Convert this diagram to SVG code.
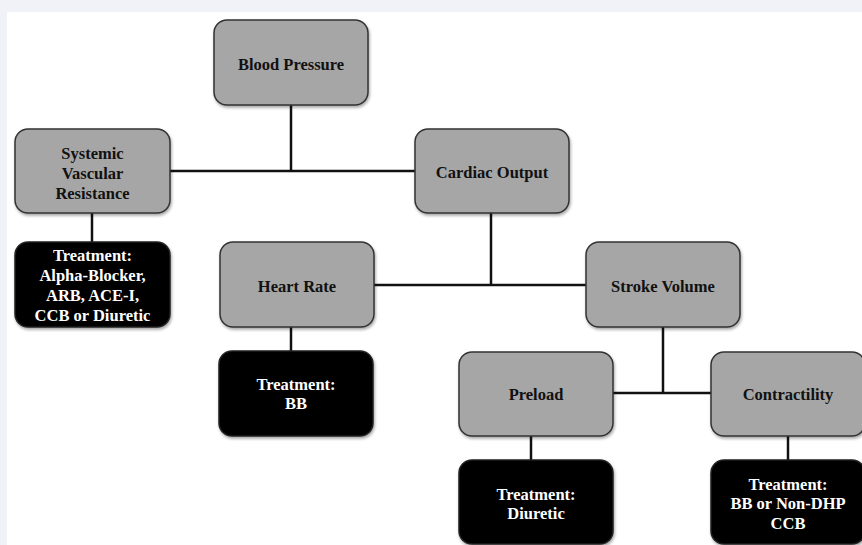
<svg xmlns="http://www.w3.org/2000/svg" width="862" height="545" viewBox="0 0 862 545">
<defs>
<filter id="sh" x="-10%" y="-10%" width="125%" height="130%">
<feDropShadow dx="1" dy="2" stdDeviation="1.5" flood-color="#000" flood-opacity="0.35"/>
</filter>
<style>
.g{fill:#a6a6a6;stroke:#333;stroke-width:1.5;filter:url(#sh)}
.b{fill:#000;stroke:#222;stroke-width:1.5;filter:url(#sh)}
text{font-family:"Liberation Serif","Times New Roman",serif;font-weight:bold;font-size:16.5px;text-anchor:middle}
.tg{fill:#111}
.tb{fill:#fff}
#connectors line{stroke:#111;stroke-width:2.5}
</style>
</defs>
<rect width="862" height="545" fill="#f0f2f7"/>
<rect x="7" y="12" width="855" height="533" fill="#fff"/>
<g id="connectors">
<line x1="291" y1="105" x2="291" y2="171"/>
<line x1="170" y1="171" x2="415" y2="171"/>
<line x1="92" y1="213" x2="92" y2="242"/>
<line x1="491" y1="213" x2="491" y2="285"/>
<line x1="374" y1="285" x2="586" y2="285"/>
<line x1="291" y1="327" x2="291" y2="351"/>
<line x1="663" y1="327" x2="663" y2="393"/>
<line x1="613" y1="393" x2="711" y2="393"/>
<line x1="531" y1="436" x2="531" y2="460"/>
<line x1="788" y1="436" x2="788" y2="460"/>
</g>
<g id="blood-pressure">
<rect class="g" x="214" y="20" width="154" height="85" rx="13"/>
<text class="tg" x="291" y="70">Blood Pressure</text>
</g>
<g id="svr">
<rect class="g" x="15" y="129" width="155" height="84" rx="13"/>
<text class="tg" x="92.5" y="159">Systemic</text>
<text class="tg" x="92.5" y="179">Vascular</text>
<text class="tg" x="92.5" y="199">Resistance</text>
</g>
<g id="cardiac-output">
<rect class="g" x="415" y="129" width="154" height="84" rx="13"/>
<text class="tg" x="492" y="178">Cardiac Output</text>
</g>
<g id="svr-treatment">
<rect class="b" x="15" y="242" width="155" height="85" rx="13"/>
<text class="tb" x="92.5" y="261">Treatment:</text>
<text class="tb" x="92.5" y="281">Alpha-Blocker,</text>
<text class="tb" x="92.5" y="301">ARB, ACE-I,</text>
<text class="tb" x="92.5" y="321">CCB or Diuretic</text>
</g>
<g id="heart-rate">
<rect class="g" x="220" y="242" width="154" height="85" rx="13"/>
<text class="tg" x="297" y="292">Heart Rate</text>
</g>
<g id="stroke-volume">
<rect class="g" x="586" y="242" width="154" height="85" rx="13"/>
<text class="tg" x="663" y="292">Stroke Volume</text>
</g>
<g id="hr-treatment">
<rect class="b" x="219" y="351" width="154" height="85" rx="13"/>
<text class="tb" x="296" y="390">Treatment:</text>
<text class="tb" x="296" y="409">BB</text>
</g>
<g id="preload">
<rect class="g" x="459" y="352" width="154" height="84" rx="13"/>
<text class="tg" x="536" y="400">Preload</text>
</g>
<g id="contractility">
<rect class="g" x="711" y="352" width="154" height="84" rx="13"/>
<text class="tg" x="788" y="400">Contractility</text>
</g>
<g id="preload-treatment">
<rect class="b" x="459" y="460" width="154" height="84" rx="13"/>
<text class="tb" x="536" y="500">Treatment:</text>
<text class="tb" x="536" y="519">Diuretic</text>
</g>
<g id="contractility-treatment">
<rect class="b" x="711" y="460" width="154" height="84" rx="13"/>
<text class="tb" x="788" y="490">Treatment:</text>
<text class="tb" x="788" y="509">BB or Non-DHP</text>
<text class="tb" x="788" y="529">CCB</text>
</g>
</svg>
